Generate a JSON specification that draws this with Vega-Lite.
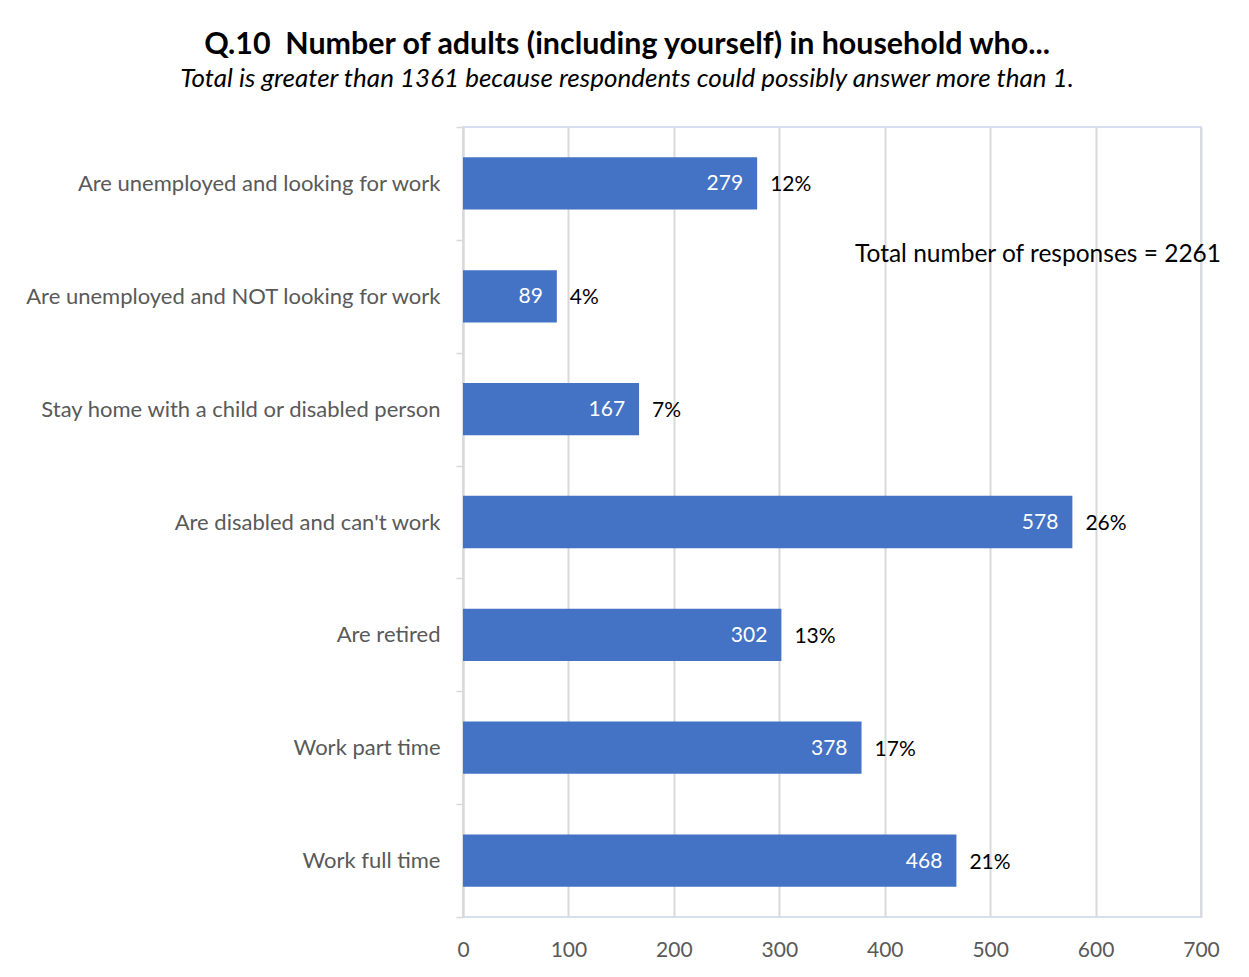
{
  "$schema": "https://vega.github.io/schema/vega-lite/v6.json",
  "autosize": {"type": "none"},
  "width": 738,
  "height": 790,
  "padding": {"left": 463, "top": 127, "right": 48, "bottom": 60},
  "background": "white",
  "title": {
    "text": "Q.10\u00a0\u00a0Number of adults (including yourself) in household who...",
    "subtitle": "Total is greater than 1361 because respondents could possibly answer more than 1.",
    "anchor": "middle",
    "frame": "group",
    "dx": -205,
    "offset": 24,
    "font": "Lato",
    "fontSize": 30.4,
    "fontWeight": "bold",
    "color": "#000000",
    "subtitleFont": "Lato",
    "subtitleFontSize": 26,
    "subtitleFontStyle": "italic",
    "subtitleColor": "#000000",
    "subtitlePadding": 6
  },
  "data": {
    "values": [
      {"category": "Are unemployed and looking for work", "count": 279, "pct": "12%"},
      {"category": "Are unemployed and NOT looking for work", "count": 89, "pct": "4%"},
      {"category": "Stay home with a child or disabled person", "count": 167, "pct": "7%"},
      {"category": "Are disabled and can't work", "count": 578, "pct": "26%"},
      {"category": "Are retired", "count": 302, "pct": "13%"},
      {"category": "Work part time", "count": 378, "pct": "17%"},
      {"category": "Work full time", "count": 468, "pct": "21%"}
    ]
  },
  "encoding": {
    "y": {
      "field": "category",
      "type": "nominal",
      "sort": null,
      "scale": {"paddingInner": 0, "paddingOuter": 0},
      "axis": {
        "title": null,
        "tickBand": "extent",
        "ticks": true,
        "tickSize": 7,
        "tickColor": "#D9D9D9",
        "tickWidth": 1.5,
        "domainColor": "#D9D9D9",
        "domainWidth": 2,
        "labelFont": "Lato",
        "labelFontSize": 22,
        "labelColor": "#595959",
        "labelPadding": 16,
        "labelLimit": 0,
        "grid": false
      }
    }
  },
  "layer": [
    {
      "mark": {"type": "bar", "color": "#4472C4", "height": {"band": 0.463}},
      "encoding": {
        "x": {
          "field": "count",
          "type": "quantitative",
          "scale": {"domain": [0, 700], "nice": false},
          "axis": {
            "title": null,
            "values": [0, 100, 200, 300, 400, 500, 600, 700],
            "domain": false,
            "ticks": false,
            "grid": true,
            "gridColor": "#D9D9D9",
            "gridWidth": 2,
            "labelFont": "Lato",
            "labelFontSize": 21,
            "labelColor": "#595959",
            "labelPadding": 22,
            "labelFlush": false
          }
        }
      }
    },
    {
      "mark": {"type": "text", "align": "right", "dx": -14, "dy": 1, "color": "white", "font": "Lato", "fontSize": 21},
      "encoding": {
        "x": {"field": "count", "type": "quantitative"},
        "text": {"field": "count", "type": "quantitative"}
      }
    },
    {
      "mark": {"type": "text", "align": "left", "dx": 13, "dy": 2, "color": "black", "font": "Lato", "fontSize": 21},
      "encoding": {
        "x": {"field": "count", "type": "quantitative"},
        "text": {"field": "pct", "type": "nominal"}
      }
    },
    {
      "data": {"values": [{"note": "Total number of responses = 2261", "category": "Are unemployed and NOT looking for work", "xpos": 719}]},
      "mark": {"type": "text", "align": "right", "dy": -41, "color": "black", "font": "Lato", "fontSize": 24.5},
      "encoding": {
        "x": {"field": "xpos", "type": "quantitative"},
        "text": {"field": "note", "type": "nominal"}
      }
    }
  ],
  "config": {
    "view": {"stroke": "#D6DFF0", "strokeWidth": 2}
  }
}
